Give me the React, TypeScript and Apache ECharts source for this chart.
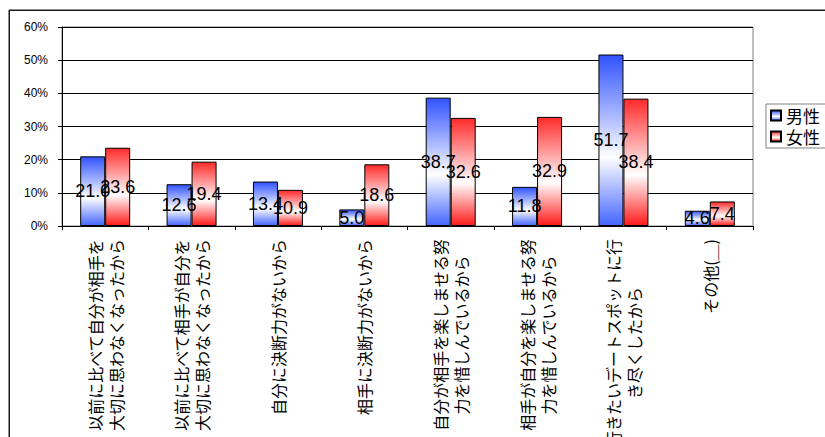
import React, { useEffect, useRef } from "react";
import * as echarts from "echarts";

// 理由別の回答割合（%）
const categories: string[] = [
  "以前に比べて自分が相手を\n大切に思わなくなったから",
  "以前に比べて相手が自分を\n大切に思わなくなったから",
  "自分に決断力がないから",
  "相手に決断力がないから",
  "自分が相手を楽しませる努\n力を惜しんでいるから",
  "相手が自分を楽しませる努\n力を惜しんでいるから",
  "行きたいデートスポットに行\nき尽くしたから",
  "その他(＿)",
];
const maleValues: number[] = [21.0, 12.6, 13.4, 5.0, 38.7, 11.8, 51.7, 4.6];
const femaleValues: number[] = [23.6, 19.4, 10.9, 18.6, 32.6, 32.9, 38.4, 7.4];
const seriesNames: string[] = ["男性", "女性"];
const yTicks: number[] = [0, 10, 20, 30, 40, 50, 60];

const LATIN = '"Liberation Sans", Arial, "Noto Sans CJK JP", sans-serif';
const CJK = '"Noto Sans CJK JP", "Liberation Sans", sans-serif';

const barFill = (edge: string, edge2: string) =>
  new echarts.graphic.LinearGradient(0, 0, 0, 1, [
    { offset: 0, color: edge },
    { offset: 0.6, color: "#ffffff" },
    { offset: 1, color: edge2 },
  ]);

export default function App() {
  const ref = useRef<HTMLDivElement>(null);

  useEffect(() => {
    if (!ref.current) return;
    const chart = echarts.init(ref.current, null, { renderer: "svg" });

    const valueLabel = {
      show: true,
      position: "inside" as const,
      color: "#000",
      fontSize: 18,
      fontFamily: LATIN,
      formatter: (p: any) => Number(p.value).toFixed(1),
    };

    chart.setOption({
      animation: false,
      backgroundColor: "#ffffff",
      // chart-area frame edges (top and left), running off the page
      graphic: [
        {
          type: "line",
          z: 50,
          silent: true,
          shape: { x1: 9, y1: 10.5, x2: 825, y2: 10.5 },
          style: { stroke: "#1a1a1a", lineWidth: 1 },
        },
        {
          type: "line",
          z: 50,
          silent: true,
          shape: { x1: 9.5, y1: 10, x2: 9.5, y2: 437 },
          style: { stroke: "#1a1a1a", lineWidth: 1 },
        },
      ],
      legend: {
        orient: "vertical",
        left: 766,
        top: 104,
        data: seriesNames,
        itemWidth: 10,
        itemHeight: 10,
        itemGap: 4,
        padding: [3, 12, 3, 4],
        borderColor: "#808080",
        borderWidth: 1,
        icon: "rect",
        textStyle: { fontSize: 17, fontFamily: CJK, color: "#000" },
      },
      grid: [
        {
          left: 62,
          top: 27,
          right: 72,
          bottom: 211,
          outerBoundsMode: "none",
          containLabel: false,
          show: true,
          borderColor: "#808080",
          borderWidth: 1,
        },
        {
          // outer frame of the chart area
          left: 9,
          top: 10,
          width: 900,
          height: 600,
          outerBoundsMode: "none",
          containLabel: false,
          show: true,
          backgroundColor: "transparent",
          borderColor: "#1a1a1a",
          borderWidth: 1,
          z: -1,
        },
      ],
      xAxis: [
        {
          type: "category",
          gridIndex: 0,
          data: categories,
          axisLine: { lineStyle: { color: "#000", width: 1 } },
          axisTick: { show: true, length: 4, inside: false, lineStyle: { color: "#000" } },
          axisLabel: {
            rotate: 90,
            margin: 13,
            interval: 0,
            color: "#000",
            formatter: (v: string) =>
              v
                .split("\n")
                .map((l) => `{c|${l}}`)
                .join("\n"),
            rich: {
              c: {
                align: "center",
                fontSize: 16,
                lineHeight: 21,
                fontFamily: CJK,
                color: "#000",
              },
            },
          },
        },
        { type: "value", gridIndex: 1, show: false },
      ],
      yAxis: [
        {
          type: "value",
          gridIndex: 0,
          min: yTicks[0],
          max: yTicks[yTicks.length - 1],
          interval: 10,
          axisLine: { show: true, lineStyle: { color: "#000", width: 1 } },
          axisTick: { show: true, length: 4, inside: false, lineStyle: { color: "#000" } },
          axisLabel: {
            margin: 14,
            color: "#000",
            fontSize: 12,
            fontFamily: LATIN,
            formatter: (v: number) => `${v}%`,
          },
          splitLine: { show: true, lineStyle: { color: "#000", width: 1 } },
        },
        { type: "value", gridIndex: 1, show: false, splitLine: { show: false } },
      ],
      series: [
        {
          name: seriesNames[0],
          type: "bar",
          data: maleValues,
          barWidth: 25,
          barGap: "0%",
          itemStyle: {
            color: barFill("#3052ff", "#4466ff"),
            borderColor: "#000",
            borderWidth: 1,
          },
          label: valueLabel,
        },
        {
          name: seriesNames[1],
          type: "bar",
          data: femaleValues,
          barWidth: 25,
          barGap: "0%",
          itemStyle: {
            color: barFill("#ff2a2a", "#ff1a1a"),
            borderColor: "#000",
            borderWidth: 1,
          },
          label: valueLabel,
        },
      ],
    });

    return () => chart.dispose();
  }, []);

  return (
    <div
      ref={ref}
      style={{
        width: 825,
        height: 437,
        position: "fixed",
        left: 0,
        top: 0,
        background: "#fff",
      }}
    />
  );
}
